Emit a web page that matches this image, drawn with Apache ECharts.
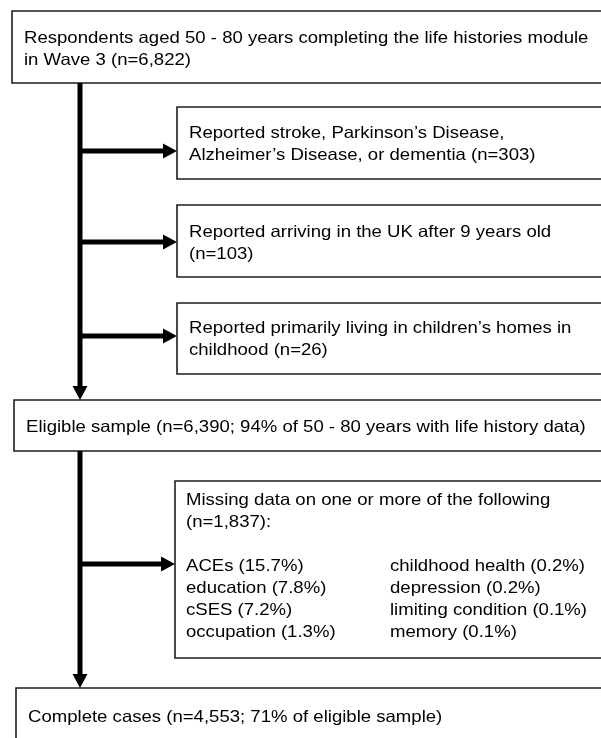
<!DOCTYPE html>
<html>
<head>
<meta charset="utf-8">
<script src="https://cdn.jsdelivr.net/npm/echarts/dist/echarts.min.js"></script>
<style>
  html, body { margin: 0; padding: 0; background: #fff; }
  #chart { width: 601px; height: 738px; }
</style>
</head>
<body>
<div id="chart"></div>
<script>
// flow steps (main column)
const mainSteps = [
  'Respondents aged 50 - 80 years completing the life histories module\nin Wave 3 (n=6,822)',
  'Eligible sample (n=6,390; 94% of 50 - 80 years with life history data)',
  'Complete cases (n=4,553; 71% of eligible sample)'
];
// exclusions (side boxes)
const exclusions = [
  'Reported stroke, Parkinson\u2019s Disease,\nAlzheimer\u2019s Disease, or dementia (n=303)',
  'Reported arriving in the UK after 9 years old\n(n=103)',
  'Reported primarily living in children\u2019s homes in\nchildhood (n=26)',
  'Missing data on one or more of the following\n(n=1,837):'
];
const missingLeft = ['ACEs (15.7%)', 'education (7.8%)', 'cSES (7.2%)', 'occupation (1.3%)'];
const missingRight = ['childhood health (0.2%)', 'depression (0.2%)', 'limiting condition (0.1%)', 'memory (0.1%)'];

// layout in px units of the hidden axes: [left, top, bottom, textLeft, firstLineY]
const mainLayout = [
  [12, 11, 83, 24, 38],
  [14, 400, 451, 26, 427],
  [16, 688, 770, 28, 717]
];
const sideLayout = [
  [177, 107, 179, 189, 133],
  [177, 205, 277, 189, 232],
  [177, 303, 374, 189, 328],
  [175, 481, 658, 186, 500]
];
const branchY = [151, 242, 336, 564];
const trunkX = 80;
const listCols = [186, 390];
const listTop = 566;

const LH = 22;
const FONT = 'Liberation Sans, Arial, Helvetica, sans-serif';
const FS = 16.5;
const STRETCH = 1.125; // source text is a little wider than Arial

const boxData = [];
mainSteps.forEach((t, i) => {
  const l = mainLayout[i];
  boxData.push({ value: [l[0], l[1], 625, l[2], l[3], l[4]], label: t });
});
exclusions.forEach((t, i) => {
  const l = sideLayout[i];
  boxData.push({ value: [l[0], l[1], 625, l[2], l[3], l[4]], label: t });
});

const textData = [];
missingLeft.forEach((t, i) => textData.push({ value: [listCols[0], listTop + i * LH], label: t }));
missingRight.forEach((t, i) => textData.push({ value: [listCols[1], listTop + i * LH], label: t }));

// arrows: [x0, y0, x1, y1]
const arrowData = [
  [trunkX, mainLayout[0][2], trunkX, mainLayout[1][1]],
  [trunkX, mainLayout[1][2], trunkX, mainLayout[2][1]]
];
branchY.forEach((y, i) => arrowData.push([trunkX, y, sideLayout[i][0], y]));

const chart = echarts.init(document.getElementById('chart'), null, { renderer: 'canvas' });

chart.setOption({
  animation: false,
  backgroundColor: '#fff',
  grid: { left: 0, right: 0, top: 0, bottom: 0 },
  xAxis: { type: 'value', min: 0, max: 601, show: false },
  yAxis: { type: 'value', min: 0, max: 738, inverse: true, show: false },
  series: [
    {
      type: 'custom',
      data: boxData,
      z: 1,
      renderItem(params, api) {
        const p0 = api.coord([api.value(0), api.value(1)]);
        const p1 = api.coord([api.value(2), api.value(3)]);
        const tp = api.coord([api.value(4), api.value(5)]);
        return {
          type: 'group',
          children: [
            {
              type: 'rect',
              shape: { x: p0[0], y: p0[1], width: p1[0] - p0[0], height: p1[1] - p0[1] },
              style: { fill: '#fff', stroke: '#1e1e1e', lineWidth: 1.6 }
            },
            {
              type: 'text',
              x: tp[0],
              y: tp[1] - LH / 2,
              scaleX: STRETCH,
              style: {
                text: boxData[params.dataIndex].label,
                fill: '#000',
                font: FS + 'px ' + FONT,
                lineHeight: LH,
                align: 'left',
                verticalAlign: 'top'
              }
            }
          ]
        };
      }
    },
    {
      type: 'custom',
      data: textData,
      z: 2,
      renderItem(params, api) {
        const p = api.coord([api.value(0), api.value(1)]);
        return {
          type: 'text',
          x: p[0],
          y: p[1],
          scaleX: STRETCH,
          style: {
            text: textData[params.dataIndex].label,
            fill: '#000',
            font: FS + 'px ' + FONT,
            align: 'left',
            verticalAlign: 'middle'
          }
        };
      }
    },
    {
      type: 'custom',
      data: arrowData,
      z: 3,
      renderItem(params, api) {
        const a = api.coord([api.value(0), api.value(1)]);
        const b = api.coord([api.value(2), api.value(3)]);
        const dx = b[0] - a[0], dy = b[1] - a[1];
        const len = Math.sqrt(dx * dx + dy * dy);
        const ux = dx / len, uy = dy / len;
        const headL = 14, headW = 7.5;
        const base = [b[0] - ux * headL, b[1] - uy * headL];
        return {
          type: 'group',
          children: [
            {
              type: 'line',
              shape: { x1: a[0], y1: a[1], x2: base[0], y2: base[1] },
              style: { stroke: '#000', lineWidth: 5 }
            },
            {
              type: 'polygon',
              shape: {
                points: [
                  [b[0], b[1]],
                  [base[0] - uy * headW, base[1] + ux * headW],
                  [base[0] + uy * headW, base[1] - ux * headW]
                ]
              },
              style: { fill: '#000' }
            }
          ]
        };
      }
    }
  ]
});
</script>
</body>
</html>
